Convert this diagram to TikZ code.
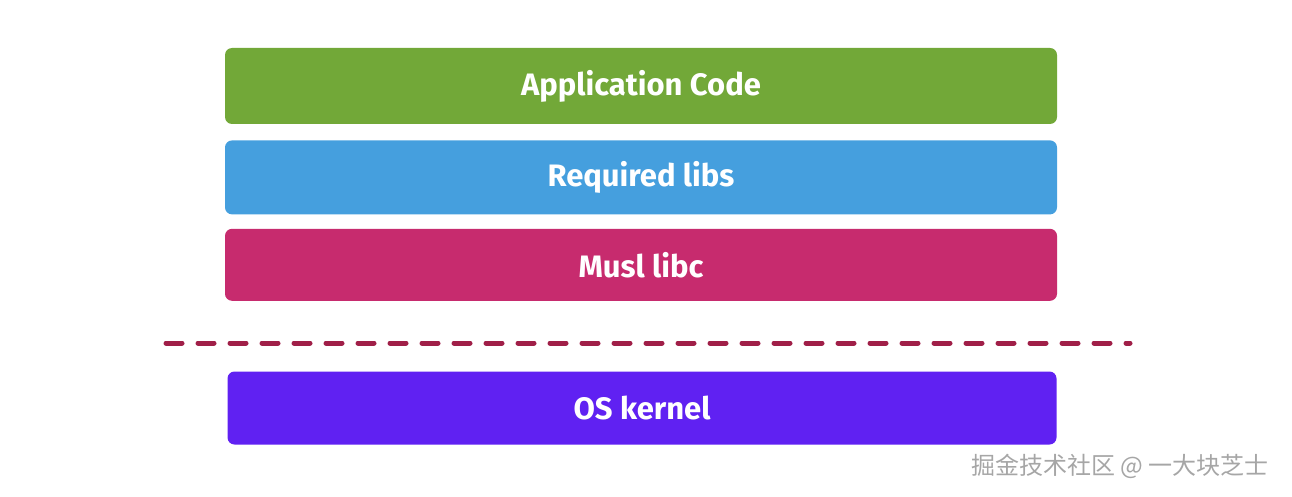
\documentclass[tikz,border=0pt]{standalone}
\usepackage{fontspec}
\setmainfont{Fira Sans}
\newfontfamily\cjk{Noto Sans CJK SC}
\usetikzlibrary{positioning}
\definecolor{appGreen}{HTML}{72A838}
\definecolor{libBlue}{HTML}{459FDE}
\definecolor{muslRed}{HTML}{C72B6E}
\definecolor{kernelPurple}{HTML}{6021F2}
\definecolor{lineRed}{HTML}{A01F48}
\tikzset{
    layer/.style={rectangle, rounded corners=7pt, minimum width=832pt, minimum height=74pt, text=white, font=\bfseries\fontsize{31}{36}\selectfont}
}
\begin{document}
\begin{tikzpicture}[x=1pt, y=1pt]
    \useasboundingbox (0,0) rectangle (1292,496); % Marco del dibujo
    \node[layer, fill=appGreen, minimum height=76pt] (appCode) at (641, 410) {Application Code}; % Capa superior
    \node[layer, fill=libBlue, below=16pt of appCode] (reqLibs) {Required libs}; % Bibliotecas
    \node[layer, fill=muslRed, minimum height=72pt, below=14pt of reqLibs] (muslLibc) {Musl libc}; % libc
    \coordinate (sepL) at (166, 153); % Extremo izquierdo de la linea
    \coordinate (sepR) at (1130, 153); % Extremo derecho de la linea
    \draw[lineRed, line width=5pt, line cap=round, dash pattern=on 16pt off 16pt] (sepL) -- (sepR); % Linea discontinua
    \node[layer, fill=kernelPurple, minimum width=829pt, minimum height=73pt] (osKernel) at (642, 88) {OS kernel}; % Nucleo
    \node[text=gray!70, font=\cjk\fontsize{24}{28}\selectfont] (wmark) at (1120, 30) {掘金技术社区 @ 一大块芝士}; % Marca de agua
\end{tikzpicture}
\end{document}
